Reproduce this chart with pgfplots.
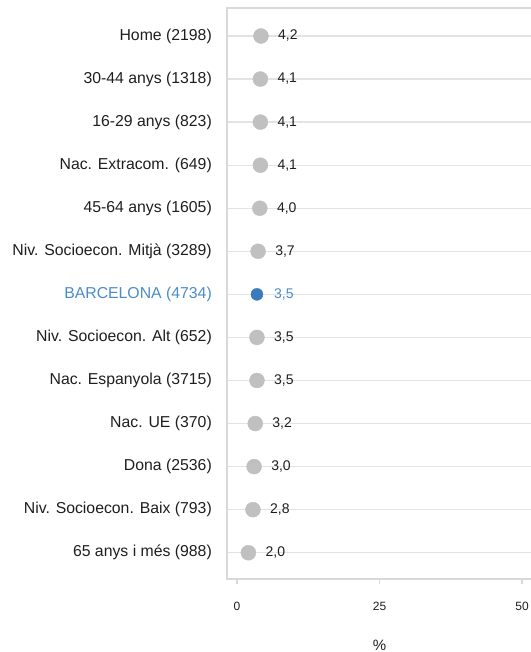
\documentclass[border=0pt]{standalone}
\usepackage{fontspec}
\setmainfont{Liberation Sans}
\usepackage{pgfplots}
\pgfplotsset{compat=1.18}
\definecolor{dotgray}{HTML}{C0C0C0}
\definecolor{dotblue}{HTML}{3A7BBC}
\definecolor{txtblue}{HTML}{4A8CC8}
\definecolor{gridgray}{HTML}{E3E3E3}
\definecolor{framegray}{HTML}{D9D9D9}
\definecolor{txt}{HTML}{1E1E1E}
\begin{document}
\begin{tikzpicture}
\begin{axis}[
  name=ax,
  scale only axis,
  width=305pt, height=571pt,
  xmin=-1.754, xmax=51.75,
  y dir=reverse,
  ymin=-0.65, ymax=12.61,
  ytick={0,...,12},
  yticklabels={Home (2198),30-44 anys (1318),16-29 anys (823),Nac. Extracom. (649),45-64 anys (1605),Niv. Socioecon. Mitjà (3289),{\color{txtblue}BARCELONA (4734)},Niv. Socioecon. Alt (652),Nac. Espanyola (3715),Nac. UE (370),Dona (2536),Niv. Socioecon. Baix (793),65 anys i més (988)},
  xtick={0,25,50},
  xtick pos=bottom,
  ytick pos=left,
  tick align=outside,
  major tick length=5pt,
  xtick style={draw=framegray, line width=1.2pt},
  ytick style={draw=none},
  ymajorgrids,
  major grid style={draw=gridgray, line width=1.3pt},
  axis line style={draw=framegray, line width=1.6pt},
  /pgf/number format/assume math mode=true,
  xticklabel style={font=\fontsize{12}{14}\selectfont, text=txt, anchor=center, yshift=-22pt},
  yticklabel style={font=\fontsize{15.8}{18}\selectfont, text=txt, anchor=east, inner sep=0pt, xshift=-10pt},
  xlabel={\%},
  xlabel style={at={(axis description cs:0.5,0)}, anchor=center, yshift=-66pt, font=\fontsize{15}{17}\selectfont, text=txt},
  nodes near coords,
  point meta=x,
  nodes near coords style={anchor=west, inner sep=0pt, xshift=17pt, font=\fontsize{14}{16}\selectfont,
    /pgf/number format/fixed, /pgf/number format/fixed zerofill, /pgf/number format/precision=1,
    /pgf/number format/use comma, /pgf/number format/assume math mode=true},
  clip=false,
]
\addplot[only marks, color=dotgray, mark=*, mark size=7.5pt, mark options={draw=dotgray, fill=dotgray}, nodes near coords style={text=txt}]
coordinates {
(4.2,0) (4.1,1) (4.1,2) (4.1,3) (4.0,4) (3.7,5)
(3.5,7) (3.5,8) (3.2,9) (3.0,10) (2.8,11) (2.0,12)
};
\addplot[only marks, color=dotblue, mark=*, mark size=6pt, mark options={draw=dotblue, fill=dotblue}, nodes near coords style={text=txtblue}]
coordinates {(3.5,6)};
\end{axis}
\pgfresetboundingbox
\path ([shift={(-227pt,-73pt)}]ax.south west) rectangle ([shift={(-2pt,8pt)}]ax.north east);
\end{tikzpicture}
\end{document}
